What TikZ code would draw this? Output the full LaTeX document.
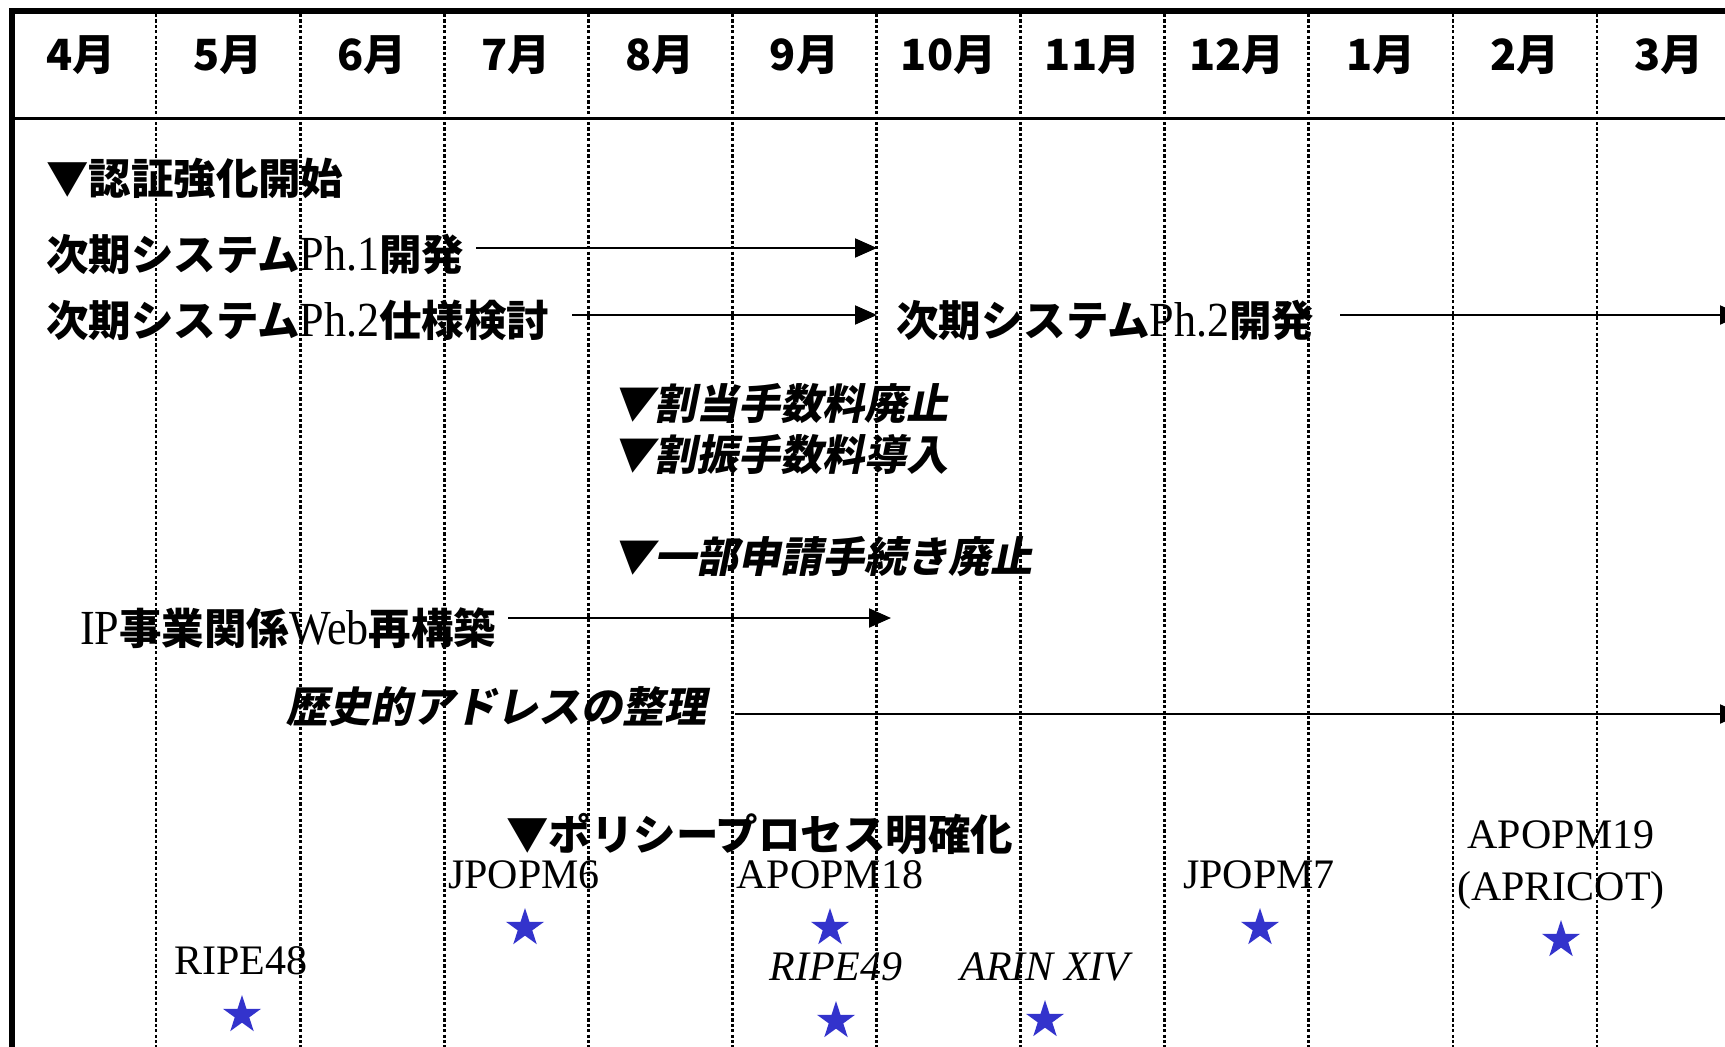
\documentclass[tikz,border=0pt]{standalone}
\usepackage{fontspec}
\setmainfont{Liberation Serif}
\newfontfamily\latc{Liberation Serif}[FakeStretch=0.9]
\newfontfamily\jpf{Noto Sans CJK JP}
\newfontfamily\jpsl{Noto Sans CJK JP}[FakeSlant=0.2]
\usetikzlibrary{arrows.meta,shapes.geometric}
\definecolor{starblue}{RGB}{51,51,204}
\newcommand{\lat}[1]{{\fontsize{49}{50}\selectfont\latc\mdseries\upshape #1}}
\begin{document}
\begin{tikzpicture}[x=1pt,y=-1pt,
  every node/.style={inner sep=0pt, outer sep=0pt},
  jp/.style={font=\fontsize{42.5}{50}\selectfont\jpf\bfseries, anchor=base west},
  jpit/.style={font=\fontsize{42}{50}\selectfont\jpsl\bfseries, anchor=base west},
  month/.style={font=\fontsize{43}{50}\selectfont\jpf\bfseries, anchor=base},
  evt/.style={font=\fontsize{42}{50}\selectfont, anchor=base},
  evtit/.style={font=\fontsize{42}{50}\selectfont\itshape, anchor=base},
  mstar/.style={star, star points=5, star point ratio=2.618, minimum size=40pt, fill=starblue, draw=none},
  arr/.style={line width=2pt, -{Triangle[length=22pt,width=19pt]}},
  gridline/.style={line width=2.8pt, dash pattern=on 3.2pt off 2.2pt},
  framethick/.style={line width=6pt},
  framethin/.style={line width=3pt},
]
\useasboundingbox (0,0) rectangle (1725,1047);
\begin{scope}
\clip (0,0) rectangle (1725,1047);
% month separators
\foreach \x in {156,300.1,444.2,588.3,732.4,876.5,1020.6,1164.7,1308.8,1452.9,1597} {
  \draw[gridline] (\x,14) -- (\x,1060);
}
% frame
\draw[framethick] (9,11) -- (1760,11);
\draw[framethick] (12,8) -- (12,1060);
\draw[framethin] (12,118.5) -- (1760,118.5);
% months
\node[month] (m4) at (81,70) {4月};
\node[month] (m5) at (228,70) {5月};
\node[month] (m6) at (372.1,70) {6月};
\node[month] (m7) at (516.2,70) {7月};
\node[month] (m8) at (660.3,70) {8月};
\node[month] (m9) at (804.4,70) {9月};
\node[month] (m10) at (948.5,70) {10月};
\node[month] (m11) at (1092.6,70) {11月};
\node[month] (m12) at (1236.7,70) {12月};
\node[month] (m1) at (1380.8,70) {1月};
\node[month] (m2) at (1524.9,70) {2月};
\node[month] (m3) at (1669,70) {3月};
% tasks
\node[jp] (t1) at (46,194) {▼認証強化開始};
\node[jp] (t2) at (46,270) {次期システム\lat{Ph.1}開発};
\node[jp] (t3) at (46,336) {次期システム\lat{Ph.2}仕様検討};
\node[jp] (t3b) at (896,336) {次期システム\lat{Ph.2}開発};
\node[jpit] (t4) at (612,419) {▼割当手数料廃止};
\node[jpit] (t5) at (612,470) {▼割振手数料導入};
\node[jpit] (t6) at (612,572) {▼一部申請手続き廃止};
\node[jp] (t7) at (80,644) {\lat{IP}事業関係\lat{Web}再構築};
\node[jpit] (t8) at (286,722) {歴史的アドレスの整理};
\node[jp] (t9) at (506,850) {▼ポリシープロセス明確化};
% arrows
\coordinate (s2) at (476,248);  \coordinate (e2) at (877,248);
\coordinate (s3) at (572,315);  \coordinate (e3) at (877,315);
\coordinate (s3b) at (1340,315); \coordinate (e3b) at (1742,315);
\coordinate (s7) at (508,618);  \coordinate (e7) at (891,618);
\coordinate (s8) at (735,714);  \coordinate (e8) at (1742,714);
\draw[arr] (s2) -- (e2);
\draw[arr] (s3) -- (e3);
\draw[arr] (s3b) -- (e3b);
\draw[arr] (s7) -- (e7);
\draw[arr] (s8) -- (e8);
% meetings
\node[evt] (jp6) at (524,888) {JPOPM6};
\node[evt] (ap18) at (830,888) {APOPM18};
\node[evt] (ripe48) at (241,974) {RIPE48};
\node[evtit] (ripe49) at (836,980) {RIPE49};
\node[evtit] (arin) at (1045,980) {ARIN XIV};
\node[evt] (jp7) at (1259,888) {JPOPM7};
\node[evt] (ap19) at (1561,848) {APOPM19};
\node[evt] (apr) at (1561,900) {(APRICOT)};
\node[mstar] (sjp6) at (525,928) {};
\node[mstar] (sap18) at (830,928) {};
\node[mstar] (sr48) at (242,1015) {};
\node[mstar] (sr49) at (836,1021) {};
\node[mstar] (sarin) at (1045,1020) {};
\node[mstar] (sjp7) at (1260,928) {};
\node[mstar] (sap19) at (1561,940) {};
\end{scope}
\end{tikzpicture}
\end{document}
